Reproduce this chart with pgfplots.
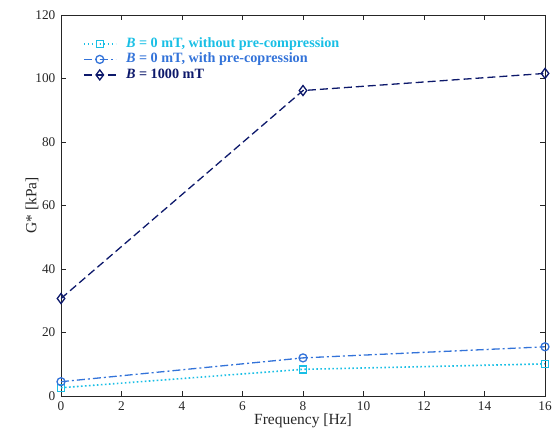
\documentclass[border=0pt]{standalone}
\usepackage{fontspec}
\setmainfont{Liberation Serif}
\usepackage{pgfplots}
\pgfplotsset{compat=1.18}
\definecolor{cA}{rgb}{0.10,0.75,0.90}
\definecolor{cB}{rgb}{0.20,0.45,0.85}
\definecolor{cC}{rgb}{0.05,0.10,0.42}
\definecolor{axc}{rgb}{0.15,0.15,0.15}
\begin{document}
\fontsize{13.3}{15}\selectfont
\begin{tikzpicture}
\path[use as bounding box] (-61pt,-42pt) rectangle (493pt,396pt);
\begin{axis}[
  at={(0pt,0pt)}, anchor=south west,
  scale only axis,
  width=484pt, height=381pt,
  xmin=0, xmax=16, ymin=0, ymax=120,
  xtick={0,2,...,16}, ytick={0,20,...,120},
  tick align=inside,
  major tick length=5pt,
  axis line style={axc, line width=0.6pt},
  every tick/.style={axc, line width=0.6pt},
  tick label style={font=\fontsize{13.3}{15}\selectfont, text=axc},
  /pgf/number format/assume math mode=true,
  xticklabel style={yshift=-1pt},
  yticklabel style={xshift=-1pt},
  xlabel={Frequency [Hz]},
  ylabel={G* [kPa]},
  every axis x label/.style={at={(rel axis cs:0.5,0)}, anchor=center, yshift=-25pt,
    font=\fontsize{15.5}{17}\selectfont, text=axc},
  every axis y label/.style={at={(rel axis cs:0,0.5)}, rotate=90, anchor=center, yshift=29pt,
    font=\fontsize{15.5}{17}\selectfont, text=axc},
  legend style={at={(rel axis cs:0.045,0.945)}, anchor=north west, draw=none, fill=none,
    inner sep=0pt, row sep=0pt,
    nodes={inner sep=1.5pt, text height=9.5pt, text depth=3pt},
    /tikz/every odd column/.append style={column sep=8pt},
    font=\fontsize{14.2}{16}\selectfont\bfseries},
  legend cell align=left,
  legend image code/.code={\draw[mark repeat=2,mark phase=2] plot coordinates {(0pt,0pt) (16pt,0pt) (32pt,0pt)};},
]
\addplot[cA, line width=1.6pt, dash pattern=on 1.6pt off 2.4pt, mark=square, mark size=3.5pt, mark options={solid, line width=1.4pt}]
  coordinates {(0,2.6) (8,8.4) (16,10.1)};
\addlegendentry{\color{cA}\textit{B} = 0 mT, without pre-compression}
\addplot[cB, line width=1.3pt, dash pattern=on 8pt off 3pt on 2pt off 3pt, mark=o, mark size=4pt, mark options={solid, line width=1.3pt}]
  coordinates {(0,4.5) (8,12.0) (16,15.5)};
\addlegendentry{\color{cB}\textit{B} = 0 mT, with pre-copression}
\addplot[cC, line width=1.3pt, dash pattern=on 8pt off 4pt, mark=diamond, mark size=5pt, mark options={solid, line width=1.3pt}]
  coordinates {(0,30.7) (8,96.2) (16,101.6)};
\addlegendentry{\color{cC}\textit{B} = 1000 mT}
\end{axis}
\end{tikzpicture}
\end{document}
